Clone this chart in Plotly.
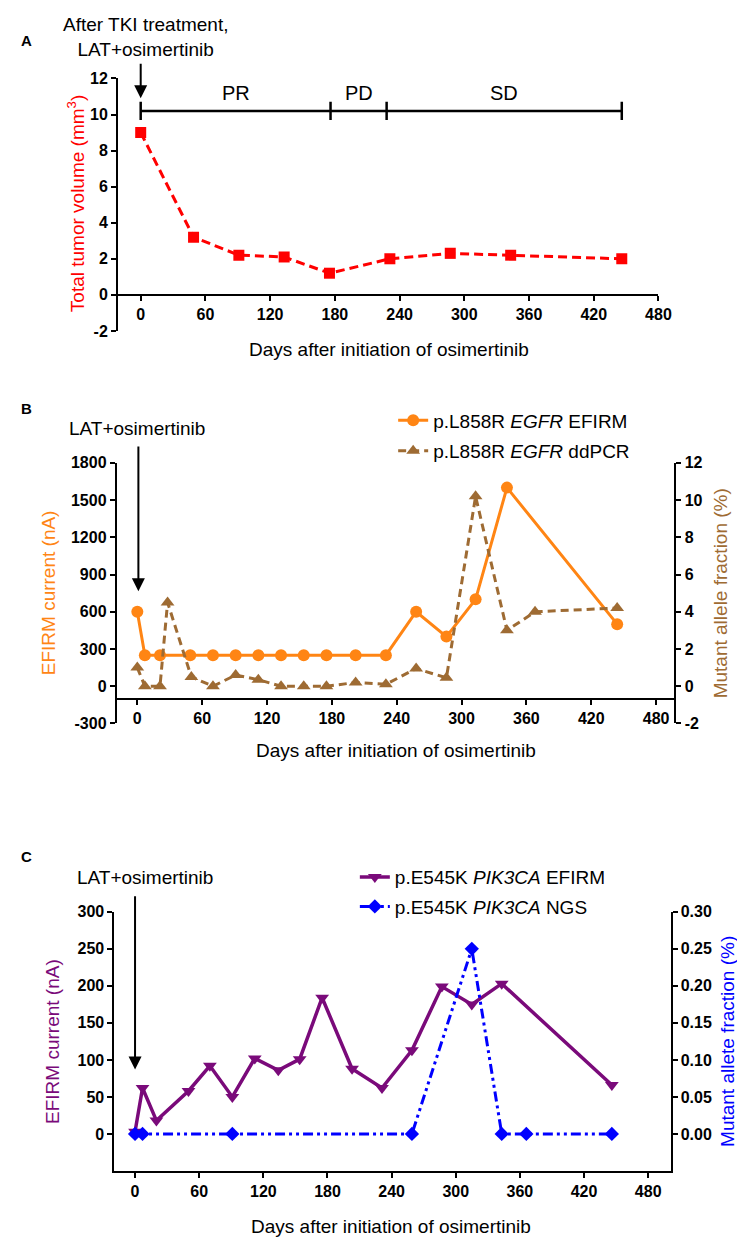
import plotly.graph_objects as go

# ---------------- data ----------------
days_A = [0, 49, 91, 133, 175, 231, 287, 343, 446]
tumor_volume = [9.0, 3.2, 2.2, 2.1, 1.2, 2.0, 2.3, 2.2, 2.0]
phase_bounds = [0, 176, 228, 446]
phase_labels = ["PR", "PD", "SD"]
phase_level = [10.2]

days_B_efirm = [0, 7, 21, 49, 70, 91, 112, 133, 154, 175, 202, 230, 258, 286, 313, 342, 444]
efirm_B = [600, 250, 250, 250, 250, 250, 250, 250, 250, 250, 250, 250, 600, 400, 700, 1600, 500]
days_B_ddpcr = [0, 7, 21, 28, 50, 70, 91, 112, 133, 154, 175, 202, 230, 258, 286, 313, 342, 368, 444]
ddpcr_B = [1.0, 0, 0, 4.5, 0.5, 0, 0.6, 0.35, 0, 0, 0, 0.2, 0.1, 0.95, 0.45, 10.2, 3.0, 4.0, 4.2]

days_C_efirm = [0, 7, 20, 50, 70, 91, 112, 134, 154, 175, 203, 231, 259, 287, 315, 343, 446]
efirm_C = [3, 62, 18, 58, 92, 50, 102, 86, 101, 184, 88, 62, 113, 199, 175, 203, 66]
days_C_ngs = [0, 7, 91, 259, 315, 343, 366, 446]
ngs_C = [0, 0, 0, 0, 0.25, 0, 0, 0]

x_ticks = [0, 60, 120, 180, 240, 300, 360, 420, 480]
yA_ticks = [-2, 0, 2, 4, 6, 8, 10, 12]
yB_left_ticks = [-300, 0, 300, 600, 900, 1200, 1500, 1800]
yB_right_ticks = [-2, 0, 2, 4, 6, 8, 10, 12]
yC_left_ticks = [0, 50, 100, 150, 200, 250, 300]
yC_right_ticks = [0, 0.05, 0.10, 0.15, 0.20, 0.25, 0.30]

# ---------------- styles ----------------
W, H = 745, 1240
FONT = "Liberation Sans, Arial, sans-serif"
RED = "#ff0000"
ORANGE = "#ff8514"
BROWN = "#9e6b33"
PURPLE = "#7a0a7a"
BLUE = "#0000ff"


def px(x):
    return x / W


def py(y):
    return 1 - y / H


def labels(vals, fmt="{:g}"):
    return [fmt.format(v) for v in vals]


tickfont = dict(family=FONT, size=16, color="black", weight="bold")
axis_common = dict(showline=True, linewidth=2, linecolor="black", ticks="outside",
                   ticklen=5, tickwidth=2, tickcolor="black", showgrid=False,
                   zeroline=False, tickfont=tickfont)

fig = go.Figure()

# ---- Panel A ----
fig.add_trace(go.Scatter(x=days_A, y=tumor_volume, mode="lines+markers",
                         line=dict(color=RED, width=3, dash="9px,5px"),
                         marker=dict(symbol="square", size=11, color=RED),
                         xaxis="x", yaxis="y", showlegend=False))
fig.add_trace(go.Scatter(x=[phase_bounds[0], phase_bounds[-1]], y=phase_level * 2,
                         mode="lines", line=dict(color="black", width=2.5),
                         xaxis="x", yaxis="y", showlegend=False))
fig.add_trace(go.Scatter(x=phase_bounds, y=phase_level * len(phase_bounds),
                         mode="markers",
                         marker=dict(symbol="line-ns", size=13,
                                     line=dict(color="black", width=2.5)),
                         xaxis="x", yaxis="y", showlegend=False))

# ---- Panel B ----
fig.add_trace(go.Scatter(x=days_B_efirm, y=efirm_B, mode="lines+markers",
                         name="p.L858R <i>EGFR</i> EFIRM",
                         line=dict(color=ORANGE, width=3),
                         marker=dict(symbol="circle", size=12, color=ORANGE),
                         xaxis="x2", yaxis="y2", legend="legend"))
fig.add_trace(go.Scatter(x=days_B_ddpcr, y=ddpcr_B, mode="lines+markers",
                         name="p.L858R <i>EGFR</i> ddPCR",
                         line=dict(color=BROWN, width=3, dash="8px,5px"),
                         marker=dict(symbol="triangle-up", size=12, color=BROWN),
                         xaxis="x2", yaxis="y3", legend="legend2"))

# ---- Panel C ----
fig.add_trace(go.Scatter(x=days_C_efirm, y=efirm_C, mode="lines+markers",
                         name="p.E545K <i>PIK3CA</i> EFIRM",
                         line=dict(color=PURPLE, width=3.5),
                         marker=dict(symbol="triangle-down", size=12, color=PURPLE),
                         xaxis="x3", yaxis="y4", legend="legend3"))
fig.add_trace(go.Scatter(x=days_C_ngs, y=ngs_C, mode="lines+markers",
                         name="p.E545K <i>PIK3CA</i> NGS",
                         line=dict(color=BLUE, width=3, dash="10px,4px,3px,4px,3px,4px"),
                         marker=dict(symbol="diamond", size=11, color=BLUE),
                         xaxis="x3", yaxis="y5", legend="legend4"))

# ---- axes geometry (pixels) ----
A_left, A_right, A_top, A_bot = 112, 662, 63.3, 319.3
B_left, B_right, B_top, B_bot = 110.7, 678.3, 453, 717.3
C_left, C_right, C_top, C_bot = 108.3, 674.3, 908.3, 1171

A_yr = [-2, 12]
B_yr = [-300, 1800]
B_yr2 = [-2, 12]
C_yr = [-50, 300]
C_yr2 = [-0.05, 0.30]

A_x0_pos = py(A_bot) + (0 - A_yr[0]) / (A_yr[1] - A_yr[0]) * (py(A_top) - py(A_bot))
B_x0_pos = py(B_bot) + (-100 - B_yr[0]) / (B_yr[1] - B_yr[0]) * (py(B_top) - py(B_bot))

fig.update_layout(
    xaxis=dict(domain=[px(A_left), px(A_right)], range=[-21, 480], anchor="free",
               position=A_x0_pos, tickvals=x_ticks, ticktext=labels(x_ticks), **axis_common),
    yaxis=dict(domain=[py(A_bot), py(A_top)], range=A_yr, anchor="x",
               tickvals=yA_ticks, ticktext=labels(yA_ticks), **axis_common),
    xaxis2=dict(domain=[px(B_left), px(B_right)], range=[-19, 497], anchor="free",
                position=B_x0_pos, tickvals=x_ticks, ticktext=labels(x_ticks), **axis_common),
    yaxis2=dict(domain=[py(B_bot), py(B_top)], range=B_yr, anchor="x2",
                tickvals=yB_left_ticks, ticktext=labels(yB_left_ticks), **axis_common),
    yaxis3=dict(domain=[py(B_bot), py(B_top)], range=B_yr2, anchor="x2",
                overlaying="y2", side="right", tickvals=yB_right_ticks,
                ticktext=labels(yB_right_ticks), **axis_common),
    xaxis3=dict(domain=[px(C_left), px(C_right)], range=[-19.3, 500.9], anchor="y4",
                tickvals=x_ticks, ticktext=labels(x_ticks), **axis_common),
    yaxis4=dict(domain=[py(C_bot), py(C_top)], range=C_yr, anchor="x3",
                tickvals=yC_left_ticks, ticktext=labels(yC_left_ticks), **axis_common),
    yaxis5=dict(domain=[py(C_bot), py(C_top)], range=C_yr2, anchor="x3",
                overlaying="y4", side="right", tickvals=yC_right_ticks,
                ticktext=labels(yC_right_ticks, "{:.2f}"), **axis_common),
)

legend_common = dict(font=dict(family=FONT, size=19, color="black"),
                     bgcolor="rgba(0,0,0,0)", xanchor="left", yanchor="middle",
                     itemwidth=30)
fig.update_layout(
    legend=dict(x=px(392), y=py(410), **legend_common),
    legend2=dict(x=px(392), y=py(441), **legend_common),
    legend3=dict(x=px(353), y=py(873), **legend_common),
    legend4=dict(x=px(353), y=py(903), **legend_common),
)

ann = []
cen = dict(xref="paper", yref="paper", xanchor="center", yanchor="middle",
           showarrow=False)


def text_ann(text, x, y, color="black", size=19, angle=0, weight="normal"):
    ann.append(dict(text=text, x=px(x), y=py(y), textangle=angle,
                    font=dict(family=FONT, size=size, color=color, weight=weight), **cen))


# axis titles
text_ann("Total tumor volume (mm<sup>3</sup>)", 70, 190, RED, angle=-90)
text_ann("Days after initiation of osimertinib", 388, 338)
text_ann("EFIRM current (nA)", 42, 585, ORANGE, angle=-90)
text_ann("Mutant allele fraction (%)", 726, 585, BROWN, angle=-90)
text_ann("Days after initiation of osimertinib", 395, 745)
text_ann("EFIRM current (nA)", 46, 1040, PURPLE, angle=-90)
text_ann("Mutant allete fraction (%)", 733, 1040, BLUE, angle=-90)
text_ann("Days after initiation of osimertinib", 390, 1227)
# panel letters
for letter, yy in [("A", 25), ("B", 398), ("C", 852)]:
    text_ann(letter, 19, yy, size=15, weight="bold")
# treatment labels
text_ann("After TKI treatment,<br>LAT+osimertinib", 140, 21)
text_ann("LAT+osimertinib", 131, 418)
text_ann("LAT+osimertinib", 139, 873)

# arrows
arrow_style = dict(showarrow=True, arrowhead=2, arrowsize=1.3, arrowwidth=2,
                   arrowcolor="black", text="")
ann.append(dict(x=0, y=10.9, ax=0, ay=12.9, xref="x", yref="y", axref="x", ayref="y",
                **arrow_style))
ann.append(dict(x=1, y=766, ax=1, ay=1944, xref="x2", yref="y2", axref="x2", ayref="y2",
                **arrow_style))
ann.append(dict(x=0, y=87, ax=0, ay=323, xref="x3", yref="y4", axref="x3", ayref="y4",
                **arrow_style))
# phase labels
for i, lab in enumerate(phase_labels):
    ann.append(dict(text=lab, x=(phase_bounds[i] + phase_bounds[i + 1]) / 2, y=11.2,
                    xref="x", yref="y", xanchor="center", yanchor="middle",
                    showarrow=False, font=dict(family=FONT, size=20, color="black")))

fig.update_layout(annotations=ann, width=W, height=H,
                  margin=dict(l=0, r=0, t=0, b=0),
                  paper_bgcolor="white", plot_bgcolor="white",
                  font=dict(family=FONT))

fig.write_html("out.html")
